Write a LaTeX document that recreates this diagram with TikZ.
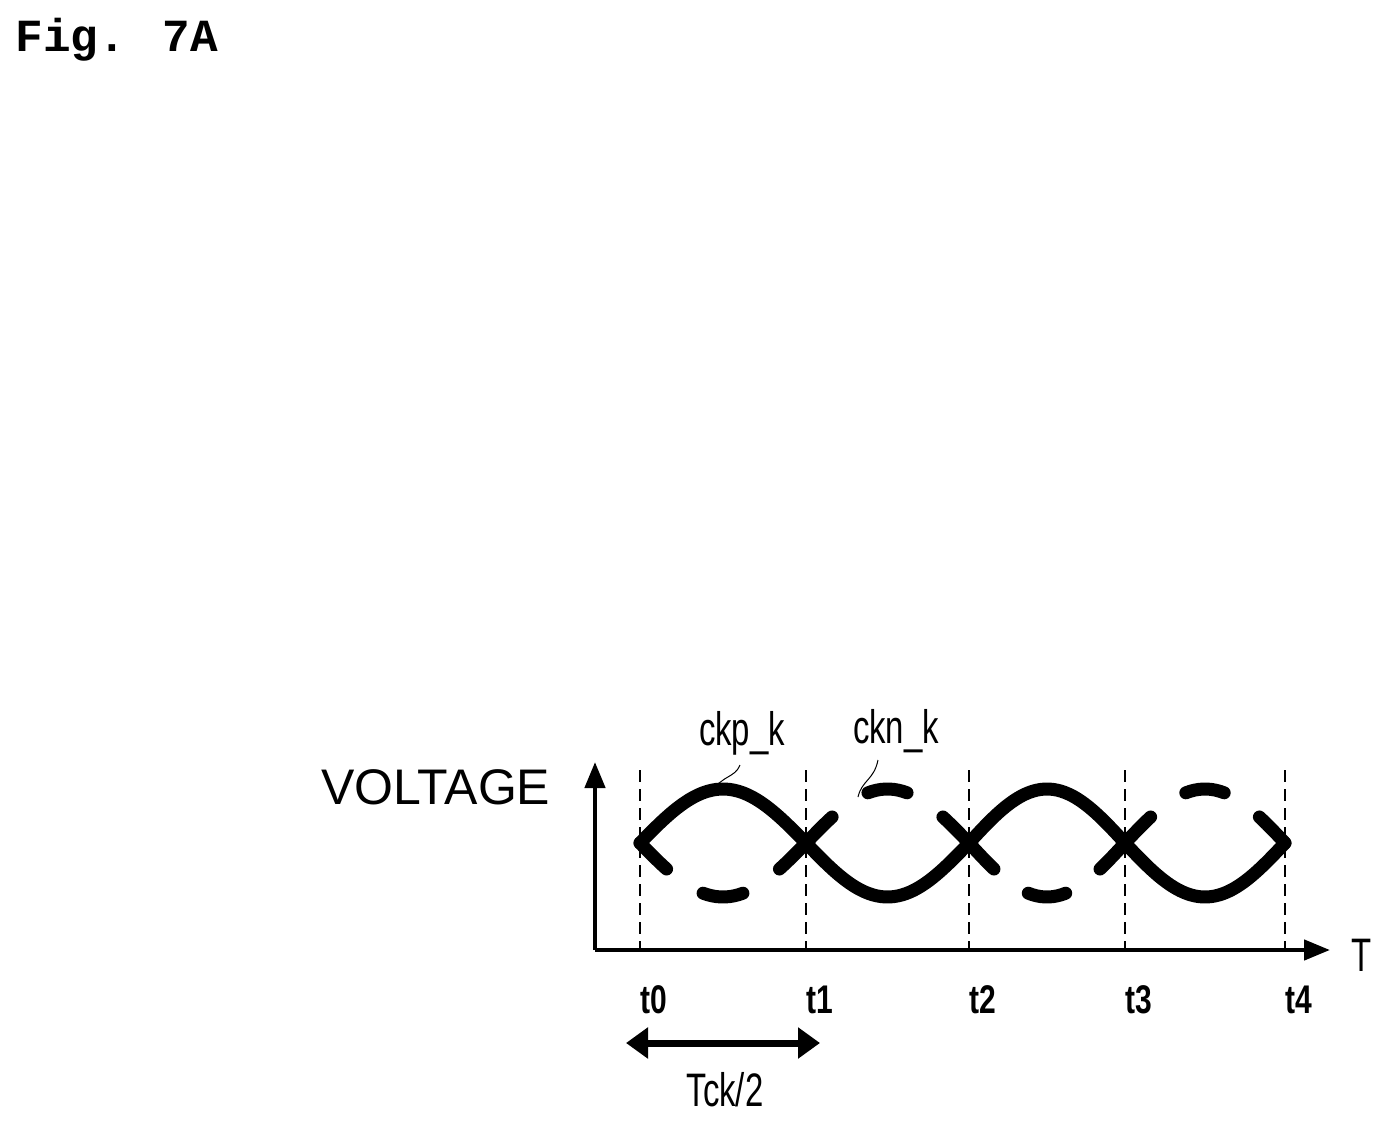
\documentclass[tikz,border=0pt]{standalone}
\usepackage{fontspec}
\setmainfont{Liberation Sans}
\newfontfamily\monob{Liberation Mono}
\usetikzlibrary{arrows.meta}
\begin{document}
\begin{tikzpicture}[x=1pt,y=-1pt,
  wave/.style={line width=13pt,line cap=round},
  axis/.style={line width=4.5pt,-{Triangle[length=26pt,width=20pt]}},
  grid/.style={line width=1.8pt,dash pattern=on 12pt off 7pt},
  cond/.style={font=\fontsize{47}{47}\selectfont},
  tick/.style={font=\fontsize{40}{40}\selectfont\bfseries}]
\useasboundingbox (0,0) rectangle (1392,1129);
\node[anchor=west,font=\fontsize{46}{46}\selectfont\monob\bfseries] (fig) at (12,40) {Fig. 7A};
% axes
\coordinate (O) at (595,950);
\coordinate (ytop) at (595,762);
\coordinate (xend) at (1330,950);
\draw[axis] (O) -- (ytop);
\draw[axis] (O) -- (xend);
% grid lines
\foreach \x/\n in {640/0,806/1,969/2,1125/3,1285/4}{
  \coordinate (g\n) at (\x,770);
  \coordinate (b\n) at (\x,948);
  \draw[grid] (g\n) -- (b\n);
  \node[tick,xscale=0.75] (t\n) at (\x+14,1000) {t\n};
}
% ckp_k solid
\foreach \a/\b/\s in {640/806/1,806/969/-1,969/1125/1,1125/1285/-1}{
  \draw[wave] plot[domain=0:1,samples=40,smooth] ({\a+\x*(\b-\a)},{843-\s*54*sin(180*\x)});
}
% ckn_k dashed
\foreach \a/\b/\s in {640/806/-1,806/969/1,969/1125/-1,1125/1285/1}{
  \draw[wave] plot[domain=0:0.16,samples=8] ({\a+\x*(\b-\a)},{843-\s*54*sin(180*\x)});
  \draw[wave] plot[domain=0.38:0.62,samples=10] ({\a+\x*(\b-\a)},{843-\s*54*sin(180*\x)});
  \draw[wave] plot[domain=0.84:1,samples=8] ({\a+\x*(\b-\a)},{843-\s*54*sin(180*\x)});
}
% labels
\node[anchor=west,font=\fontsize{50}{50}\selectfont] (volt) at (318,787) {VOLTAGE};
\node[cond,xscale=0.7] (ckp) at (742,733) {ckp\_k};
\node[cond,xscale=0.7] (ckn) at (896,731) {ckn\_k};
\node[cond,xscale=0.7] (T) at (1362,955) {T};
\coordinate (ckpend) at (712,792);
\coordinate (cknend) at (858,797);
\draw[line width=1pt] (740,765) .. controls (735,778) and (722,775) .. (ckpend);
\draw[line width=1pt] (878,760) .. controls (874,780) and (862,780) .. (cknend);
% Tck/2
\coordinate (ta) at (626,1043);
\coordinate (tb) at (820,1043);
\draw[line width=7pt,{Triangle[length=22pt,width=30pt]}-{Triangle[length=22pt,width=30pt]}] (ta) -- (tb);
\node[cond,xscale=0.7] (tck) at (725,1090) {Tck/2};
\end{tikzpicture}
\end{document}
